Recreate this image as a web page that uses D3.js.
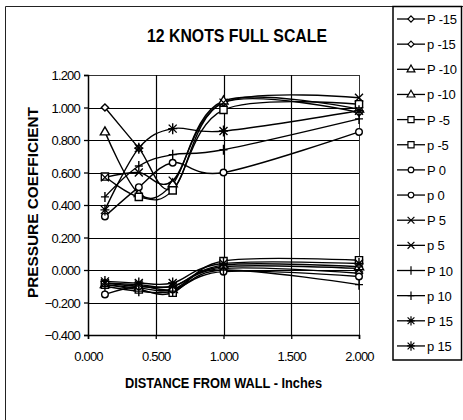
<!DOCTYPE html>
<html><head><meta charset="utf-8">
<script src="https://cdn.jsdelivr.net/npm/d3@7"></script>
<style>body{margin:0;background:#fff}svg{display:block}text{font-family:Arial,"Liberation Sans",sans-serif;fill:#000}</style>
</head><body><svg id="c" width="463" height="420"></svg>
<script>
// ---- data ----
const distance = [0.125, 0.375, 0.625, 1.0, 2.0];
const xTicks = [0, 0.5, 1.0, 1.5, 2.0];
const yTicks = [-0.4, -0.2, 0, 0.2, 0.4, 0.6, 0.8, 1.0, 1.2];
const seriesNames = ["P -15","p -15","P -10","p -10","P -5","p -5","P 0","p 0","P 5","p 5","P 10","p 10","P 15","p 15"];
const markerTypes = ["diamond","diamond","triangle","triangle","square","square","circle","circle","x","x","plus","plus","star","star"];
const P_m15 = [1.00, 0.75, 0.50, 1.03, 0.97];
const p_m15 = [-0.08, -0.10, -0.10, 0.01, -0.02];
const P_m10 = [0.85, 0.47, 0.53, 1.04, 0.99];
const p_m10 = [-0.09, -0.11, -0.12, 0.03, 0.02];
const P_m5  = [0.575, 0.45, 0.49, 0.985, 1.02];
const p_m5  = [-0.09, -0.12, -0.14, 0.055, 0.06];
const P_0   = [0.33, 0.51, 0.66, 0.60, 0.85];
const p_0   = [-0.15, -0.10, -0.12, -0.01, -0.04];
const P_5   = [0.57, 0.60, 0.55, 1.03, 1.06];
const p_5   = [-0.08, -0.09, -0.10, 0.02, 0.01];
const P_10  = [0.45, 0.64, 0.71, 0.74, 0.93];
const p_10  = [-0.10, -0.13, -0.13, 0.00, -0.09];
const P_15  = [0.37, 0.75, 0.87, 0.855, 0.98];
const p_15  = [-0.07, -0.08, -0.08, 0.04, 0.04];
const seriesValues = [P_m15,p_m15,P_m10,p_m10,P_m5,p_m5,P_0,p_0,P_5,p_5,P_10,p_10,P_15,p_15];

// ---- layout ----
const svg = d3.select("#c");
const x = d3.scaleLinear().domain([0, 2]).range([88, 359]);
const y = d3.scaleLinear().domain([-0.4, 1.2]).range([335, 75]);

// outer frame
svg.append("path").attr("d","M5.5,420 V6.5 H463").attr("fill","none").attr("stroke","#222").attr("stroke-width",1);

// gridlines
const g = svg.append("g");
g.selectAll(".hg").data(yTicks).join("line")
  .attr("x1", x(0)).attr("x2", x(2))
  .attr("y1", d => Math.round(y(d)) + 0.5).attr("y2", d => Math.round(y(d)) + 0.5)
  .attr("stroke", "#000").attr("stroke-width", d => d === 1.2 ? 0.8 : 1.2);
g.selectAll(".vg").data(xTicks.slice(1)).join("line")
  .attr("y1", y(1.2)).attr("y2", y(-0.4))
  .attr("x1", d => Math.round(x(d)) + 0.5).attr("x2", d => Math.round(x(d)) + 0.5)
  .attr("stroke", "#000").attr("stroke-width", d => d === 2 ? 0.8 : 1.2);

// axes
const yAxis = svg.append("g").attr("transform", `translate(${x(0)},0)`)
  .call(d3.axisLeft(y).tickValues(yTicks).tickFormat(d3.format(".3f")).tickSize(4).tickPadding(4));
const xAxis = svg.append("g").attr("transform", `translate(0,${y(-0.4)})`)
  .call(d3.axisBottom(x).tickValues(xTicks).tickFormat(d3.format(".3f")).tickSize(4).tickPadding(13));
[yAxis, xAxis].forEach(a => {
  a.select(".domain").attr("stroke", "#000").attr("stroke-width", 1.5);
  a.selectAll(".tick line").attr("stroke", "#000").attr("stroke-width", 1.3);
  a.selectAll("text").attr("font-size", 13).attr("letter-spacing", "-0.8px")
    .attr("font-family", "Arial, 'Liberation Sans', sans-serif").attr("fill", "#000");
});
yAxis.selectAll("text").attr("dy", "0.35em");

// marker shapes
function markerPath(t) {
  switch (t) {
    case "diamond": return "M0,-3.6L3.6,0L0,3.6L-3.6,0Z";
    case "triangle": return "M0,-5L4.6,3L-4.6,3Z";
    case "square": return "M-3.6,-3.6H3.6V3.6H-3.6Z";
    case "circle": return "M-3.3,0A3.3,3.3 0 1,0 3.3,0A3.3,3.3 0 1,0 -3.3,0Z";
    case "x": return "M-4,-4L4,4M-4,4L4,-4";
    case "plus": return "M0,-5V5M-4,0H4";
    case "star": return "M-4,-4L4,4M-4,4L4,-4M0,-5.5V5.5M-4.5,0H4.5";
  }
}
const filled = t => ["diamond","triangle","square","circle"].includes(t);

// series lines
const line = d3.line().x(d => x(d[0])).y(d => y(d[1])).curve(d3.curveCardinal.tension(0));
const plot = svg.append("g");
seriesValues.forEach((vals, i) => {
  const pts = distance.map((d, j) => [d, vals[j]]);
  plot.append("path").attr("d", line(pts)).attr("fill", "none")
    .attr("stroke", "#000").attr("stroke-width", 1.4);
});
seriesValues.forEach((vals, i) => {
  const t = markerTypes[i];
  plot.selectAll(null).data(distance.map((d, j) => [d, vals[j]])).join("path")
    .attr("transform", d => `translate(${x(d[0])},${y(d[1])})`)
    .attr("d", markerPath(t))
    .attr("fill", filled(t) ? "#fff" : "none")
    .attr("stroke", "#000").attr("stroke-width", 1.4);
});

// titles
svg.append("text").attr("x", 147).attr("y", 42).attr("font-size", 18).attr("font-weight", "bold")
  .attr("textLength", 180).attr("lengthAdjust", "spacingAndGlyphs").text("12 KNOTS FULL SCALE");
svg.append("text").attr("x", 125).attr("y", 388).attr("font-size", 14).attr("font-weight", "bold")
  .attr("textLength", 197).attr("lengthAdjust", "spacingAndGlyphs").text("DISTANCE FROM WALL  - Inches");
svg.append("text").attr("transform", "translate(38,298) rotate(-90)").attr("font-size", 14).attr("font-weight", "bold")
  .attr("textLength", 191).attr("lengthAdjust", "spacingAndGlyphs").text("PRESSURE COEFFICIENT");

// legend
svg.append("rect").attr("x", 393).attr("y", 6.5).attr("width", 68.5).attr("height", 353.5)
  .attr("fill", "#fff").attr("stroke", "#000").attr("stroke-width", 1.5);
const leg = svg.append("g");
seriesNames.forEach((name, i) => {
  const cy = 19 + i * 25.15;
  leg.append("line").attr("x1", 397).attr("x2", 425).attr("y1", cy).attr("y2", cy)
    .attr("stroke", "#000").attr("stroke-width", 1.3);
  const t = markerTypes[i];
  leg.append("path").attr("transform", `translate(411,${cy}) scale(0.85)`).attr("d", markerPath(t))
    .attr("fill", filled(t) ? "#fff" : "none").attr("stroke", "#000").attr("stroke-width", 1.4);
  leg.append("text").attr("x", 427).attr("y", cy + 5).attr("font-size", 13).attr("letter-spacing", "-0.2px").text(name);
});
</script></body></html>
